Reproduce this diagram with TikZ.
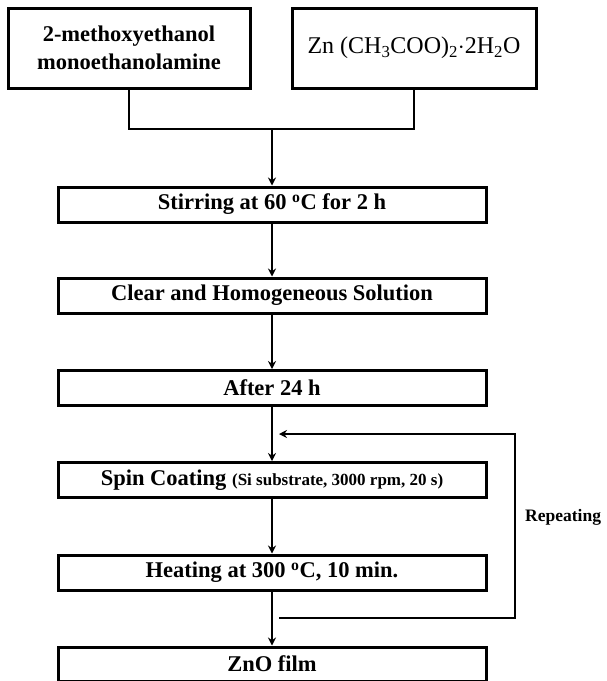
\documentclass[tikz,border=0pt]{standalone}
\usepackage{fontspec}
\setmainfont{Liberation Serif}
\usetikzlibrary{arrows.meta}
\begin{document}
\begin{tikzpicture}[x=1pt,y=-1pt,
  box/.style={draw,line width=3pt,rectangle,inner sep=0pt,font=\bfseries\fontsize{22.5}{25}\selectfont},
  wide/.style={box,minimum width=428pt,minimum height=35pt},
  conn/.style={line width=2.8pt},
  arr/.style={conn,-{Stealth[length=8pt,width=8pt]}}]
\useasboundingbox (0,0) rectangle (607,681);
\node[box,minimum width=242pt,minimum height=80pt,align=center,font=\bfseries\fontsize{22.5}{28}\selectfont] (m1) at (129,48) {2-methoxyethanol\\monoethanolamine};
\node[box,minimum width=244pt,minimum height=80pt,font=\fontsize{24}{26}\selectfont] (m2) at (414,48) {Zn (CH\textsubscript{3}COO)\textsubscript{2}$\cdot$2H\textsubscript{2}O};
\node[wide] (s1) at (272,204.5) {Stirring at 60 \textsuperscript{o}C for 2 h};
\node[wide] (s2) at (272,295.5) {Clear and Homogeneous Solution};
\node[wide] (s3) at (272,388) {After 24 h};
\node[wide] (s4) at (272,480) {Spin Coating {\fontsize{17}{19}\selectfont (Si substrate, 3000 rpm, 20 s)}};
\node[wide] (s5) at (272,572.5) {Heating at 300 \textsuperscript{o}C, 10 min.};
\node[wide,minimum height=34pt] (s6) at (272,664) {ZnO film};
\coordinate (j) at (272,129);
\draw[conn] (m1.south) |- (j);
\draw[conn] (m2.south) |- (j);
\draw[arr] (j) -- (s1.north);
\draw[arr] (s1) -- (s2);
\draw[arr] (s2) -- (s3);
\draw[arr] (s3) -- (s4);
\draw[arr] (s4) -- (s5);
\draw[arr] (s5) -- (s6);
\coordinate (f1) at (279,618);
\coordinate (f2) at (515,618);
\coordinate (f3) at (515,434);
\coordinate (f4) at (279,434);
\draw[arr] (f1) -- (f2) -- (f3) -- (f4);
\node[anchor=west,inner sep=0pt,font=\bfseries\fontsize{17.5}{19}\selectfont] (rep) at (525,517) {Repeating};
\end{tikzpicture}
\end{document}
